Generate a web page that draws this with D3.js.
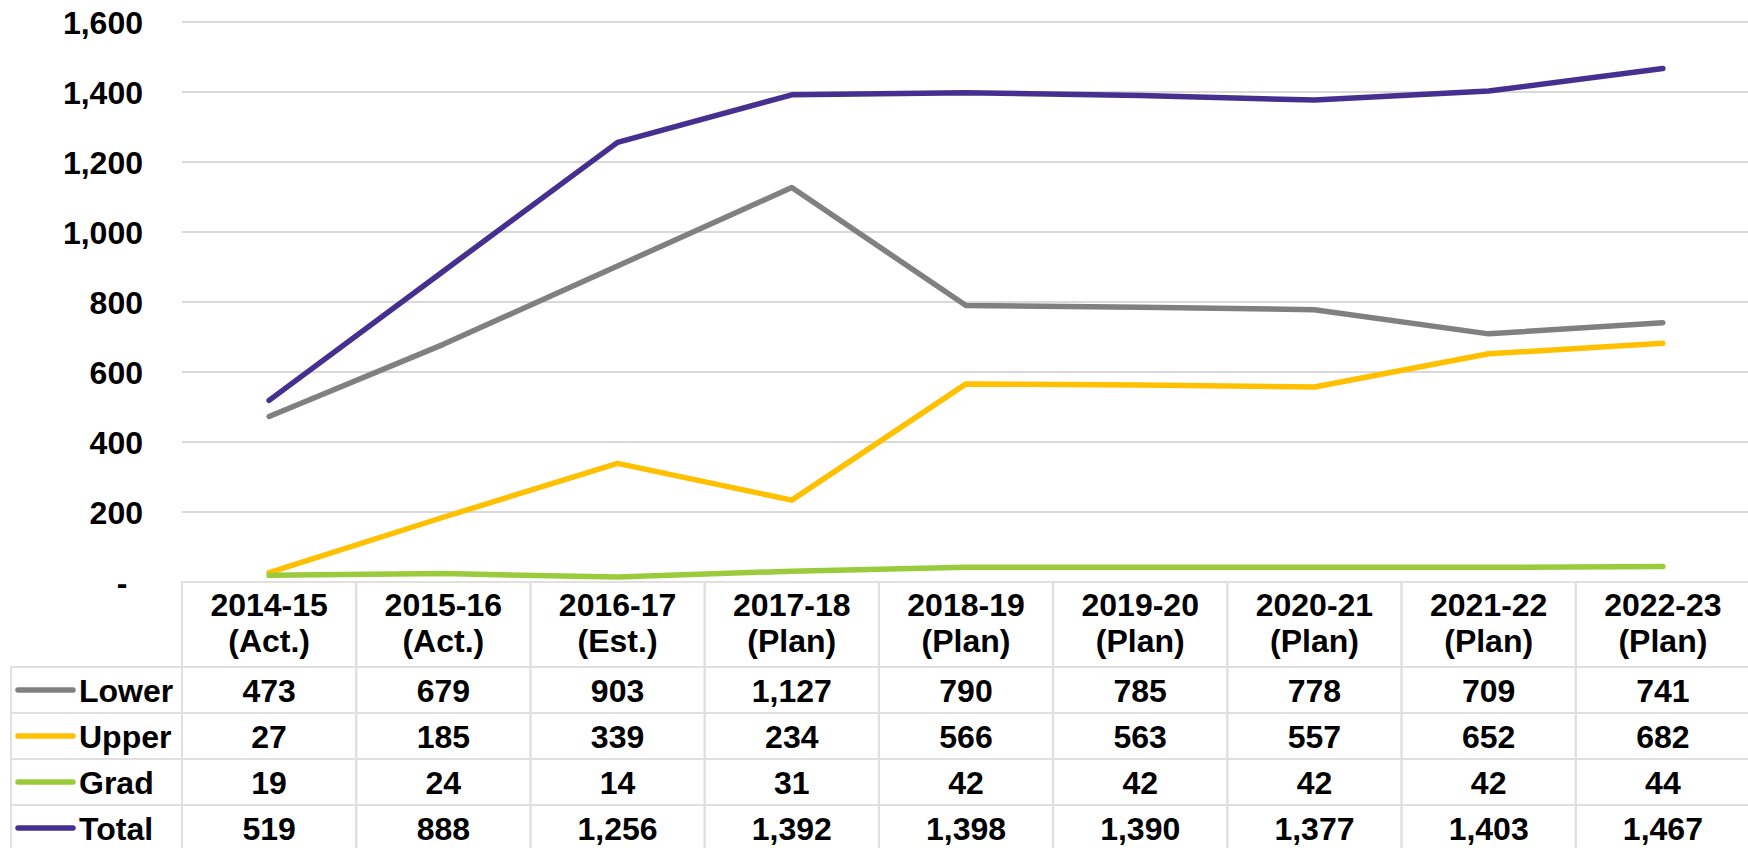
<!DOCTYPE html>
<html>
  <head>
    <meta charset="utf-8" />
    <title>Enrollment chart</title>
    <style>
      body { margin: 0; background: #fff; }
      text {
        font-family: 'Liberation Sans', Arial, sans-serif;
        font-weight: bold;
        font-size: 32px;
        fill: #000;
      }
      .grid { stroke: #d9d9d9; stroke-width: 2px; }
      .cell { stroke: #e0e0e0; stroke-width: 2px; fill: none; }
      .line { fill: none; stroke-width: 5.5px; stroke-linecap: round; stroke-linejoin: round; }
    </style>
    <script src="https://d3js.org/d3.v7.min.js"></script>
  </head>
  <body>
    <svg width="1748" height="848"></svg>
    <script>
      // categories (two-line labels)
      var years = ['2014-15', '2015-16', '2016-17', '2017-18', '2018-19', '2019-20', '2020-21', '2021-22', '2022-23']
      var yearStatus = ['(Act.)', '(Act.)', '(Est.)', '(Plan)', '(Plan)', '(Plan)', '(Plan)', '(Plan)', '(Plan)']

      // series values
      var lower = [473, 679, 903, 1127, 790, 785, 778, 709, 741]
      var upper = [27, 185, 339, 234, 566, 563, 557, 652, 682]
      var grad = [19, 24, 14, 31, 42, 42, 42, 42, 44]
      var total = [519, 888, 1256, 1392, 1398, 1390, 1377, 1403, 1467]

      var yTicks = [0, 200, 400, 600, 800, 1000, 1200, 1400, 1600]

      var series = [
        { name: 'Lower', color: '#808080', values: lower },
        { name: 'Upper', color: '#ffc000', values: upper },
        { name: 'Grad', color: '#9bcb3c', values: grad },
        { name: 'Total', color: '#46308f', values: total },
      ]

      var svg = d3.select('svg')

      var plotLeft = 182, plotRight = 1750, plotTop = 22, plotBottom = 582
      var x = d3.scaleBand().domain(years).range([plotLeft, plotRight])
      var y = d3.scaleLinear().domain([0, 1600]).range([plotBottom, plotTop])
      var fmt = d3.format(',')

      // gridlines
      svg.selectAll('.grid')
        .data(yTicks.slice(1))
        .enter()
        .append('line')
        .attr('class', 'grid')
        .attr('x1', plotLeft)
        .attr('x2', 1748)
        .attr('y1', function (d) { return y(d) })
        .attr('y2', function (d) { return y(d) })

      // y tick labels
      svg.selectAll('.ytick')
        .data(yTicks)
        .enter()
        .append('text')
        .attr('class', 'ytick')
        .attr('x', function (d) { return d === 0 ? 122 : 143 })
        .attr('y', function (d) { return y(d) + 12 })
        .attr('text-anchor', function (d) { return d === 0 ? 'middle' : 'end' })
        .text(function (d) { return d === 0 ? '-' : fmt(d) })

      // table
      var headerH = 85, rowH = 46
      var tableTop = plotBottom
      var rowsTop = tableTop + headerH
      var labelLeft = 11

      // header cells
      svg.selectAll('.hcell')
        .data(years)
        .enter()
        .append('rect')
        .attr('class', 'cell')
        .attr('x', function (d) { return x(d) })
        .attr('y', tableTop)
        .attr('width', x.bandwidth())
        .attr('height', headerH)

      var head = svg.selectAll('.head')
        .data(years)
        .enter()
        .append('text')
        .attr('class', 'head')
        .attr('text-anchor', 'middle')
      head.append('tspan')
        .attr('x', function (d) { return x(d) + x.bandwidth() / 2 })
        .attr('y', tableTop + 34)
        .text(function (d) { return d })
      head.append('tspan')
        .attr('x', function (d) { return x(d) + x.bandwidth() / 2 })
        .attr('y', tableTop + 70)
        .text(function (d, i) { return yearStatus[i] })

      // rows
      var rows = svg.selectAll('.row')
        .data(series)
        .enter()
        .append('g')
        .attr('class', 'row')
        .attr('transform', function (d, i) { return 'translate(0,' + (rowsTop + i * rowH) + ')' })

      rows.append('rect')
        .attr('class', 'cell')
        .attr('x', labelLeft)
        .attr('y', 0)
        .attr('width', plotLeft - labelLeft)
        .attr('height', rowH)

      rows.append('line')
        .attr('class', 'line')
        .attr('x1', 18)
        .attr('x2', 73)
        .attr('y1', rowH / 2)
        .attr('y2', rowH / 2)
        .style('stroke', function (d) { return d.color })

      rows.append('text')
        .attr('x', 79)
        .attr('y', rowH / 2 + 12)
        .text(function (d) { return d.name })

      rows.selectAll('.vcell')
        .data(function (d) { return d.values })
        .enter()
        .append('rect')
        .attr('class', 'cell')
        .attr('x', function (d, i) { return x(years[i]) })
        .attr('y', 0)
        .attr('width', x.bandwidth())
        .attr('height', rowH)

      rows.selectAll('.val')
        .data(function (d) { return d.values })
        .enter()
        .append('text')
        .attr('class', 'val')
        .attr('text-anchor', 'middle')
        .attr('x', function (d, i) { return x(years[i]) + x.bandwidth() / 2 })
        .attr('y', rowH / 2 + 12)
        .text(function (d) { return fmt(d) })

      // lines
      var line = d3.line()
        .x(function (d, i) { return x(years[i]) + x.bandwidth() / 2 })
        .y(function (d) { return y(d) })

      svg.selectAll('.series')
        .data(series)
        .enter()
        .append('path')
        .attr('class', 'line series')
        .attr('d', function (d) { return line(d.values) })
        .style('stroke', function (d) { return d.color })
    </script>
  </body>
</html>
